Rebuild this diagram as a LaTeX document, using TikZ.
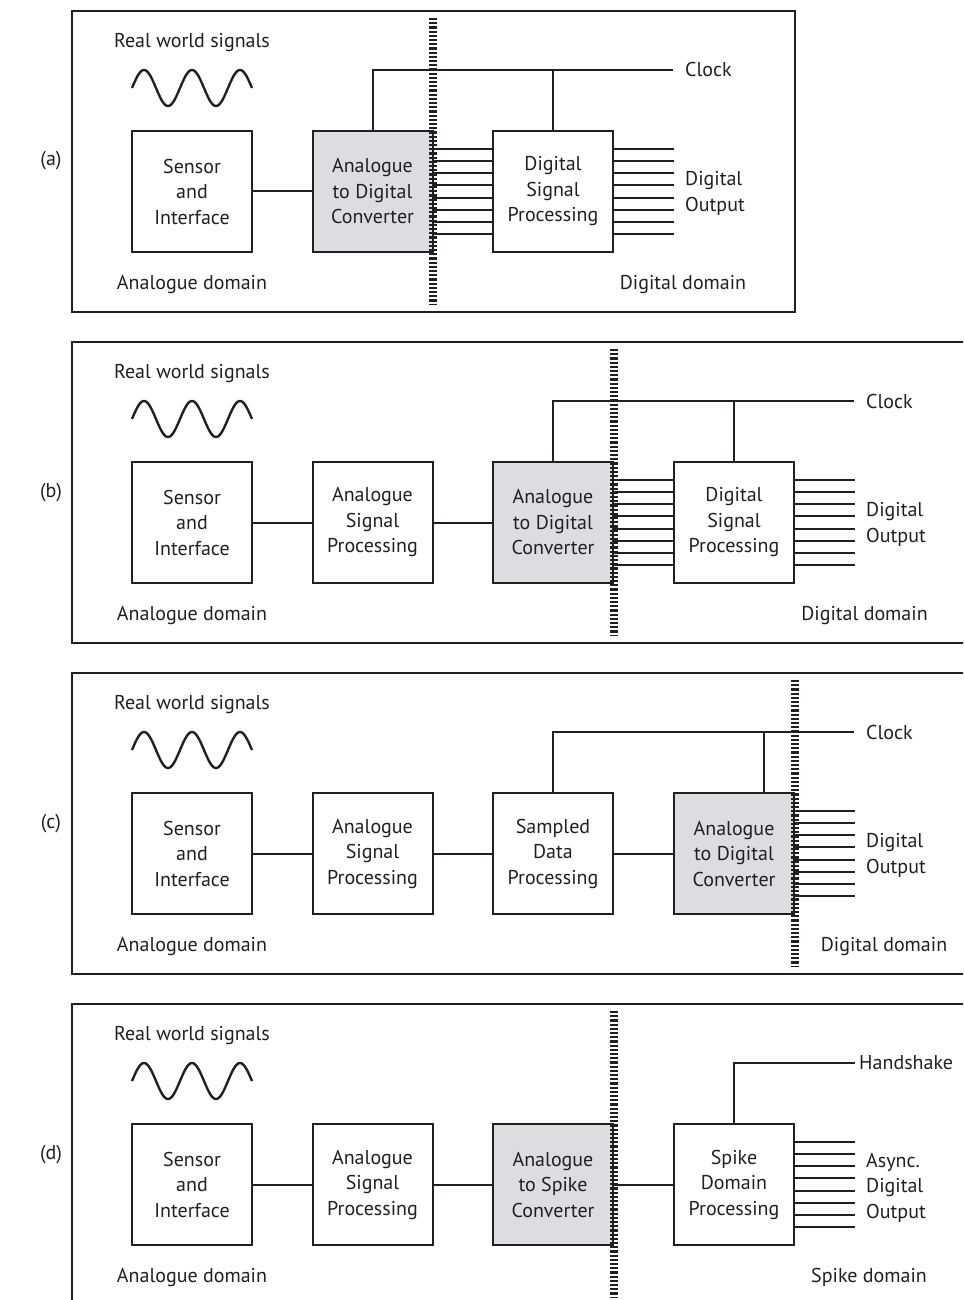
\documentclass[tikz,border=0pt]{standalone}
\usepackage{fontspec}
\setmainfont{PT Sans}
\definecolor{ink}{RGB}{35,31,32}
\definecolor{adcgrey}{RGB}{220,221,225}
\tikzset{
  lbl/.style={font=\fontsize{20}{25.5}\selectfont, text=ink, inner sep=0pt},
  freelbl/.style={lbl, yshift=-2.5pt},
  blockbox/.style={draw=ink, line width=2pt, minimum width=120pt, minimum height=121pt,
    align=center, inner sep=0pt, font=\fontsize{20}{25.5}\selectfont, text=ink},
  greybox/.style={blockbox, fill=adcgrey},
  wire/.style={draw=ink, line width=2pt},
  frame/.style={draw=ink, line width=2pt},
  boundary/.style={draw=ink, line width=8pt, dash pattern=on 2.2pt off 2pt},
  wave/.style={draw=ink, line width=2.4pt},
}
\begin{document}
\begin{tikzpicture}[x=1pt, y=-1pt]
\clip (0,0) rectangle (963,1300);
\fill[white] (0,0) rectangle (963,1300);

% ---------- (a) ----------
\begin{scope}
  \draw[frame] (72,11) rectangle (795,312);
  \node[freelbl] (a-tag) at (51,158) {(a)};
  \node[freelbl] (a-rw) at (192,40) {Real world signals};
  \draw[wave] plot[domain=132:252, samples=121, smooth] (\x, {88 - 18*sin((\x-132)*7.5)});
  \node[blockbox] (a-sen) at (192,191.5) {Sensor\\and\\Interface};
  \node[greybox] (a-adc) at (372.5,191.5) {Analogue\\to Digital\\Converter};
  \node[blockbox] (a-dsp) at (553,191.5) {Digital\\Signal\\Processing};
  \draw[wire] (a-sen.east) -- (a-adc.west);
  \node[lbl, anchor=west, inner xsep=12pt] (a-clk) at (673,70) {Clock};
  \draw[wire] (a-adc.north) |- (a-clk.west);
  \draw[wire] (a-dsp.north) -- (a-dsp.north |- a-clk.west);
  \foreach \i in {0,...,7} {
    \draw[wire] ([yshift={42.5pt-12.143pt*\i}]a-adc.east) -- ([yshift={42.5pt-12.143pt*\i}]a-dsp.west);
    \draw[wire] ([yshift={42.5pt-12.143pt*\i}]a-dsp.east) -- ++(60,0);
  }
  \node[freelbl, anchor=west, align=left] (a-out) at (685,191) {Digital\\Output};
  \node[freelbl] (a-ad) at (192,282) {Analogue domain};
  \node[freelbl] (a-dd) at (683,282) {Digital domain};
  \draw[boundary] (432.5,18) -- (432.5,305);
\end{scope}

% ---------- (b) ----------
\begin{scope}[shift={(0,331)}]
  \draw[frame] (72,11) rectangle (990,312);
  \node[freelbl] (b-tag) at (51,159) {(b)};
  \node[freelbl] (b-rw) at (192,40) {Real world signals};
  \draw[wave] plot[domain=132:252, samples=121, smooth] (\x, {88 - 18*sin((\x-132)*7.5)});
  \node[blockbox] (b-sen) at (192,191.5) {Sensor\\and\\Interface};
  \node[blockbox] (b-asp) at (372.5,191.5) {Analogue\\Signal\\Processing};
  \node[greybox] (b-adc) at (553,191.5) {Analogue\\to Digital\\Converter};
  \node[blockbox] (b-dsp) at (734,191.5) {Digital\\Signal\\Processing};
  \draw[wire] (b-sen.east) -- (b-asp.west);
  \draw[wire] (b-asp.east) -- (b-adc.west);
  \node[lbl, anchor=west, inner xsep=12pt] (b-clk) at (854,70) {Clock};
  \draw[wire] (b-adc.north) |- (b-clk.west);
  \draw[wire] (b-dsp.north) -- (b-dsp.north |- b-clk.west);
  \foreach \i in {0,...,7} {
    \draw[wire] ([yshift={42.5pt-12.143pt*\i}]b-adc.east) -- ([yshift={42.5pt-12.143pt*\i}]b-dsp.west);
    \draw[wire] ([yshift={42.5pt-12.143pt*\i}]b-dsp.east) -- ++(60,0);
  }
  \node[freelbl, anchor=west, align=left] (b-out) at (866,191) {Digital\\Output};
  \node[freelbl] (b-ad) at (192,282) {Analogue domain};
  \node[freelbl] (b-dd) at (864.5,282) {Digital domain};
  \draw[boundary] (613.5,18) -- (613.5,305);
\end{scope}

% ---------- (c) ----------
\begin{scope}[shift={(0,662)}]
  \draw[frame] (72,11) rectangle (990,312);
  \node[freelbl] (c-tag) at (51,159) {(c)};
  \node[freelbl] (c-rw) at (192,40) {Real world signals};
  \draw[wave] plot[domain=132:252, samples=121, smooth] (\x, {88 - 18*sin((\x-132)*7.5)});
  \node[blockbox] (c-sen) at (192,191.5) {Sensor\\and\\Interface};
  \node[blockbox] (c-asp) at (372.5,191.5) {Analogue\\Signal\\Processing};
  \node[blockbox] (c-sdp) at (553,191.5) {Sampled\\Data\\Processing};
  \node[greybox] (c-adc) at (734,191.5) {Analogue\\to Digital\\Converter};
  \draw[wire] (c-sen.east) -- (c-asp.west);
  \draw[wire] (c-asp.east) -- (c-sdp.west);
  \draw[wire] (c-sdp.east) -- (c-adc.west);
  \node[lbl, anchor=west, inner xsep=12pt] (c-clk) at (854,70) {Clock};
  \draw[wire] (c-sdp.north) |- (c-clk.west);
  \draw[wire] ([xshift=30pt]c-adc.north) -- ([xshift=30pt]c-adc.north |- c-clk.west);
  \foreach \i in {0,...,7} {
    \draw[wire] ([yshift={42.5pt-12.143pt*\i}]c-adc.east) -- ++(60,0);
  }
  \node[freelbl, anchor=west, align=left] (c-out) at (866,191) {Digital\\Output};
  \node[freelbl] (c-ad) at (192,282) {Analogue domain};
  \node[freelbl] (c-dd) at (884,282) {Digital domain};
  \draw[boundary] (794.5,18) -- (794.5,305);
\end{scope}

% ---------- (d) ----------
\begin{scope}[shift={(0,993)}]
  \draw[frame] (72,11) rectangle (990,330);
  \node[freelbl] (d-tag) at (51,159) {(d)};
  \node[freelbl] (d-rw) at (192,40) {Real world signals};
  \draw[wave] plot[domain=132:252, samples=121, smooth] (\x, {88 - 18*sin((\x-132)*7.5)});
  \node[blockbox] (d-sen) at (192,191.5) {Sensor\\and\\Interface};
  \node[blockbox] (d-asp) at (372.5,191.5) {Analogue\\Signal\\Processing};
  \node[greybox] (d-asc) at (553,191.5) {Analogue\\to Spike\\Converter};
  \node[blockbox] (d-sdp) at (734,191.5) {Spike\\Domain\\Processing};
  \draw[wire] (d-sen.east) -- (d-asp.west);
  \draw[wire] (d-asp.east) -- (d-asc.west);
  \draw[wire] (d-asc.east) -- (d-sdp.west);
  \node[lbl, anchor=west, inner xsep=4pt] (d-hs) at (855,70) {Handshake};
  \draw[wire] (d-sdp.north) |- (d-hs.west);
  \foreach \i in {0,...,7} {
    \draw[wire] ([yshift={42.5pt-12.143pt*\i}]d-sdp.east) -- ++(60,0);
  }
  \node[freelbl, anchor=west, align=left] (d-out) at (866,192) {Async.\\Digital\\Output};
  \node[freelbl] (d-ad) at (192,282) {Analogue domain};
  \node[freelbl] (d-sd) at (869,282) {Spike domain};
  \draw[boundary] (613.5,18) -- (613.5,305);
\end{scope}
\end{tikzpicture}
\end{document}
